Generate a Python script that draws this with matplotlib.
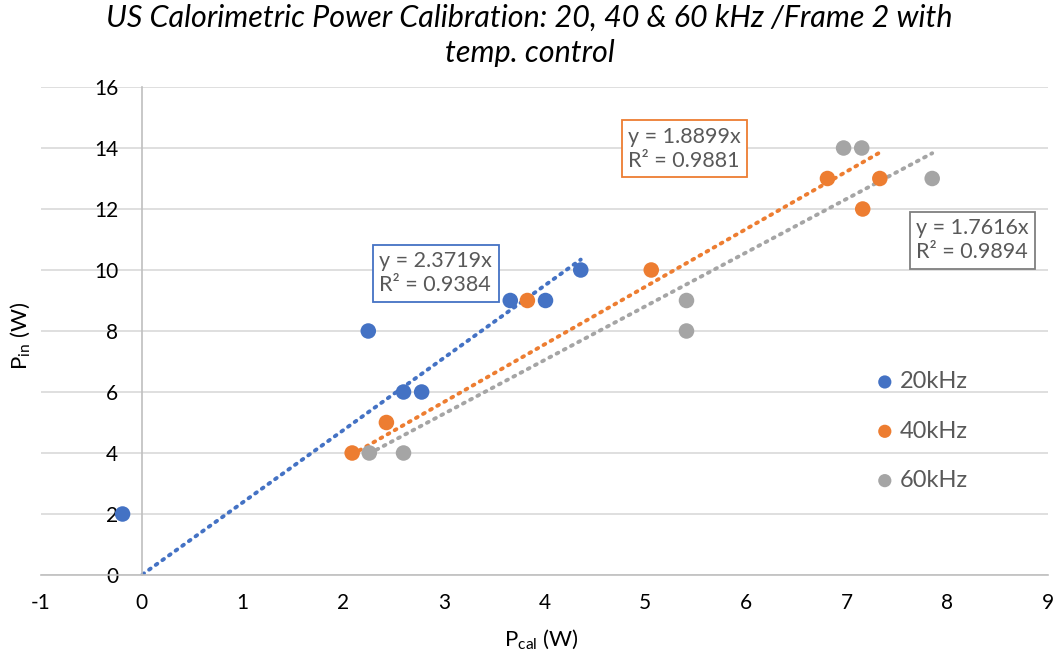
import matplotlib
matplotlib.use("Agg")
import matplotlib.pyplot as plt
import numpy as np

plt.rcParams['font.family'] = ['Lato', 'DejaVu Sans']

# Data
x20 = [-0.19, 2.25, 2.60, 2.78, 3.66, 4.01, 4.36]
y20 = [2, 8, 6, 6, 9, 9, 10]
x40 = [2.09, 2.43, 3.83, 5.06, 6.81, 7.16, 7.33]
y40 = [4, 5, 9, 10, 13, 12, 13]
x60 = [2.26, 2.60, 5.41, 5.41, 6.97, 7.15, 7.85]
y60 = [4, 4, 9, 8, 14, 14, 13]
slopes = [2.3719, 1.8899, 1.7616]
r2 = [0.9384, 0.9881, 0.9894]
labels = ['20kHz', '40kHz', '60kHz']
colors = ['#4472C4', '#ED7D31', '#A5A5A5']

fig = plt.figure(figsize=(10.59, 6.59), dpi=100)
ax = fig.add_axes([41/1059, 84/659, (1048-41)/1059, (575-87)/659])
ax.set_xlim(-1, 9)
ax.set_ylim(0, 16)

series = [(x20, y20), (x40, y40), (x60, y60)]
for (xs, ys), c, lab, m in zip(series, colors, labels, slopes):
    ax.scatter(xs, ys, s=125, color=c, zorder=3, label=lab, edgecolors='none')
    xl = np.array([min(xs), max(xs)])
    ax.plot(xl, m * xl, color=c, linestyle=(0, (0.5, 1.6)), linewidth=2.8,
            dash_capstyle='round', zorder=2)

# gridlines
ax.set_yticks(np.arange(0, 17, 2))
ax.set_xticks(np.arange(-1, 10, 1))
ax.yaxis.grid(True, color='#D9D9D9', linewidth=1.2)
ax.set_axisbelow(True)
for s in ['top', 'right']:
    ax.spines[s].set_visible(False)
ax.spines['left'].set_position(('data', 0))
ax.spines['left'].set_color('#BFBFBF')
ax.spines['bottom'].set_color('#BFBFBF')
ax.spines['left'].set_linewidth(1.2)
ax.spines['bottom'].set_linewidth(1.2)
ax.tick_params(axis='both', length=0, labelsize=15, colors='black')
ax.tick_params(axis='x', pad=13)
ax.tick_params(axis='y', pad=17)
ax.set_xticklabels([str(v) for v in range(-1, 10)])

# Equation boxes
box_pos = [(2.36, 9.9), (4.83, 13.97), (7.69, 10.98)]
for (bx, by), c, m, r in zip(box_pos, colors, slopes, r2):
    ec = '#7F7F7F' if c == '#A5A5A5' else c
    ax.text(bx, by, f"y = {m:.4f}x\nR² = {r:.4f}", fontsize=15.5, color='#595959',
            ha='left', va='center', linespacing=1.25, zorder=4,
            bbox=dict(boxstyle='square,pad=0.3', fc='white', ec=ec, lw=1.3))

leg = ax.legend(loc='center left', bbox_to_anchor=((873-41)/1007, (575-431)/488),
                frameon=False, fontsize=17, labelcolor='#595959', handletextpad=0.15,
                labelspacing=1.2, markerscale=0.85, handlelength=1.0, borderpad=0,
                borderaxespad=0)

fig.text(0.5, 1 - 4/659, "US Calorimetric Power Calibration: 20, 40 & 60 kHz /Frame 2 with\ntemp. control",
         ha='center', va='top', fontsize=22, style='italic', color='black', linespacing=1.3)

ax.set_xlabel(r"P$_{\mathregular{cal}}$ (W)", fontsize=16)
ax.xaxis.set_label_coords((541-41)/1007, -(640-575)/488)
ax.xaxis.label.set_va('center')
fig.text(21/1059, 1 - 336/659, r"P$_{\mathregular{in}}$ (W)", rotation=90, fontsize=16,
         ha='center', va='center')

fig.savefig("out.png", dpi=100)
